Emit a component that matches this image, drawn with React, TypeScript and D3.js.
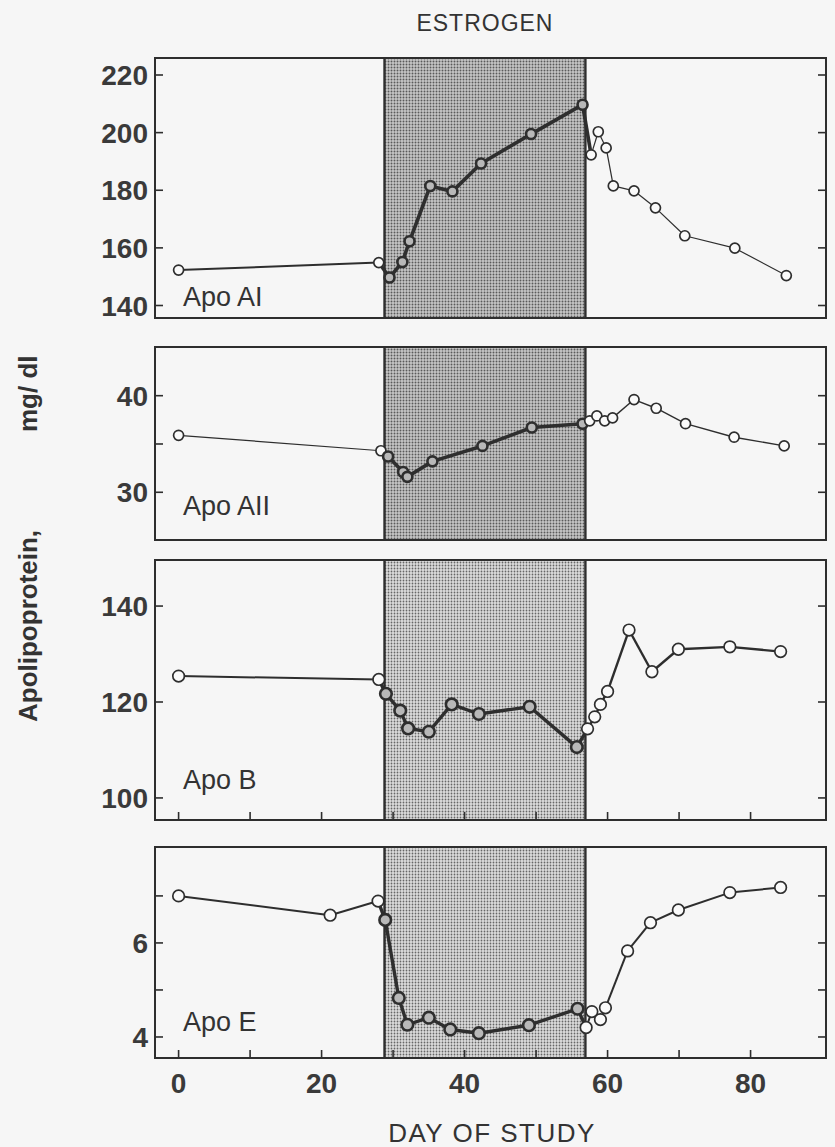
import React from "react";
import * as d3 from "d3";

// ---------- data ----------
const estrogenStart = 28.8;
const estrogenEnd = 56.9;

const xTicks = [0, 10, 20, 30, 40, 50, 60, 70, 80];
const xTickLabels = [0, 20, 40, 60, 80];

const apoAIDays = [0, 28, 29.5, 31.3, 32.3, 35.2, 38.3, 42.3, 49.3, 56.5, 57.7, 58.7, 59.8, 60.8, 63.7, 66.7, 70.8, 77.8, 85];
const apoAIValues = [152.3, 154.9, 149.7, 155.1, 162.3, 181.5, 179.6, 189.3, 199.5, 209.7, 192.3, 200.3, 194.7, 181.5, 179.8, 173.9, 164.2, 159.9, 150.4];
const apoAITicks = [140, 160, 180, 200, 220];
const apoAITickLabels = [140, 160, 180, 200, 220];

const apoAIIDays = [0, 28.3, 29.3, 31.4, 32.0, 35.5, 42.5, 49.4, 56.5, 57.5, 58.5, 59.6, 60.7, 63.7, 66.8, 70.9, 77.7, 84.7];
const apoAIIValues = [35.9, 34.3, 33.7, 32.1, 31.6, 33.2, 34.8, 36.7, 37.1, 37.4, 37.9, 37.4, 37.7, 39.6, 38.7, 37.1, 35.7, 34.8];
const apoAIITicks = [30, 35, 40];
const apoAIITickLabels = [30, 40];

const apoBDays = [0, 28, 29, 31, 32.1, 35, 38.2, 42, 49.1, 55.7, 57.2, 58.2, 59, 60, 63, 66.2, 69.9, 77.1, 84.2];
const apoBValues = [125.4, 124.7, 121.7, 118.2, 114.5, 113.8, 119.5, 117.5, 119.0, 110.6, 114.4, 116.9, 119.5, 122.2, 135.0, 126.3, 131.0, 131.5, 130.5];
const apoBTicks = [100, 120, 140];
const apoBTickLabels = [100, 120, 140];

const apoEDays = [0, 21.2, 27.9, 28.9, 30.8, 32, 35, 38, 42, 49, 55.8, 57.0, 57.8, 59, 59.7, 62.8, 66, 69.9, 77.1, 84.2];
const apoEValues = [7.0, 6.59, 6.89, 6.49, 4.83, 4.26, 4.41, 4.16, 4.08, 4.25, 4.6, 4.2, 4.54, 4.37, 4.62, 5.83, 6.43, 6.7, 7.07, 7.18];
const apoETicks = [4, 5, 6, 7];
const apoETickLabels = [4, 6];

// ---------- layout ----------
const W = 835;
const H = 1147;
const X0 = 155;
const X1 = 826;
const FONT = "'Liberation Sans', Arial, Helvetica, sans-serif";
const INK = "#2e2e2e";

const x = d3.scaleLinear().domain([-3.3, 90.55]).range([X0, X1]);

type Panel = {
  key: string;
  label: string;
  days: number[];
  values: number[];
  ticks: number[];
  tickLabels: number[];
  domain: [number, number];
  top: number;
  bottom: number;
  labelY: number;
  pattern: string;
  wPre: number;
  wIn: number;
  wPost: number;
  r: number;
  xTicksOn: boolean;
};

const panels: Panel[] = [
  { key: "a1", label: "Apo AI", days: apoAIDays, values: apoAIValues, ticks: apoAITicks, tickLabels: apoAITickLabels,
    domain: [135.66, 225.9], top: 58, bottom: 318, labelY: 306, pattern: "dotsDark", wPre: 2, wIn: 3.6, wPost: 1.2, r: 5, xTicksOn: false },
  { key: "a2", label: "Apo AII", days: apoAIIDays, values: apoAIIValues, ticks: apoAIITicks, tickLabels: apoAIITickLabels,
    domain: [25.06, 45.04], top: 347, bottom: 540, labelY: 515, pattern: "dotsDark", wPre: 1.2, wIn: 3.6, wPost: 1.4, r: 5, xTicksOn: false },
  { key: "b", label: "Apo B", days: apoBDays, values: apoBValues, ticks: apoBTicks, tickLabels: apoBTickLabels,
    domain: [95.4, 149.6], top: 560, bottom: 820, labelY: 789, pattern: "dotsLight", wPre: 2, wIn: 3.4, wPost: 2.4, r: 5.8, xTicksOn: true },
  { key: "e", label: "Apo E", days: apoEDays, values: apoEValues, ticks: apoETicks, tickLabels: apoETickLabels,
    domain: [3.553, 8.04], top: 847, bottom: 1058, labelY: 1031, pattern: "dotsLight", wPre: 2, wIn: 3.4, wPost: 2, r: 5.8, xTicksOn: true },
];

const inside = (d: number) => d >= estrogenStart && d <= estrogenEnd;

function PanelView({ p }: { p: Panel }) {
  const y = d3.scaleLinear().domain(p.domain).range([p.bottom, p.top]);
  const pts = p.days.map((d, i) => ({ d, v: p.values[i] }));
  const line = d3.line<{ d: number; v: number }>().x((q) => x(q.d)).y((q) => y(q.v));
  const segs = pts.slice(1).map((q, i) => {
    const a = pts[i];
    const thick = inside(a.d) || inside(q.d);
    const w = thick ? p.wIn : q.d < estrogenStart ? p.wPre : p.wPost;
    return { a, b: q, w };
  });
  const sx0 = x(estrogenStart);
  const sx1 = x(estrogenEnd);
  return (
    <g>
      <rect x={sx0} y={p.top} width={sx1 - sx0} height={p.bottom - p.top} fill={`url(#${p.pattern})`} />
      <line x1={sx0} x2={sx0} y1={p.top} y2={p.bottom} stroke={INK} strokeWidth={2.4} />
      <line x1={sx1} x2={sx1} y1={p.top} y2={p.bottom} stroke={INK} strokeWidth={2.4} />
      <rect x={X0} y={p.top} width={X1 - X0} height={p.bottom - p.top} fill="none" stroke={INK} strokeWidth={2} />
      {p.ticks.map((t) => (
        <g key={t}>
          <line x1={X0} x2={X0 + 8} y1={y(t)} y2={y(t)} stroke={INK} strokeWidth={1.6} />
          <line x1={X1 - 8} x2={X1} y1={y(t)} y2={y(t)} stroke={INK} strokeWidth={1.6} />
        </g>
      ))}
      {p.tickLabels.map((t) => (
        <text key={t} x={148} y={y(t)} dy="0.36em" textAnchor="end" fontFamily={FONT} fontWeight={700}
          fontSize={28} fill="#3a3a3a">{t}</text>
      ))}
      {p.xTicksOn && xTicks.map((t) => (
        <line key={t} x1={x(t)} x2={x(t)} y1={p.bottom} y2={p.bottom - 8} stroke={INK} strokeWidth={1.6} />
      ))}
      {segs.map((s, i) => (
        <path key={i} d={line([s.a, s.b]) || ""} stroke={INK} strokeWidth={s.w} fill="none" strokeLinejoin="round" />
      ))}
      {pts.map((q, i) => (
        <circle key={i} cx={x(q.d)} cy={y(q.v)} r={p.r}
          fill={inside(q.d) ? "#b8b8b8" : "#fafafa"}
          stroke={INK} strokeWidth={inside(q.d) ? 2.6 : 1.7} />
      ))}
      <text x={183} y={p.labelY} fontFamily={FONT} fontSize={27} fill="#333">{p.label}</text>
    </g>
  );
}

export default function App() {
  return (
    <svg width={W} height={H} style={{ position: "absolute", left: 0, top: 0, background: "#f6f6f6" }}>
      <defs>
        <pattern id="dotsDark" width={3} height={3} patternUnits="userSpaceOnUse">
          <rect width={3} height={3} fill="#c6c6c6" />
          <circle cx={1.5} cy={1.5} r={0.95} fill="#5a5a5a" />
        </pattern>
        <pattern id="dotsLight" width={3} height={3} patternUnits="userSpaceOnUse">
          <rect width={3} height={3} fill="#dcdcdc" />
          <circle cx={1.5} cy={1.5} r={0.9} fill="#666" />
        </pattern>
      </defs>
      <rect width={W} height={H} fill="#f6f6f6" />
      <text x={(x(estrogenStart) + x(estrogenEnd)) / 2} y={31} textAnchor="middle" fontFamily={FONT} fontSize={23}
        letterSpacing={1} fill="#333">ESTROGEN</text>
      {panels.map((p) => <PanelView key={p.key} p={p} />)}
      {xTickLabels.map((t) => (
        <text key={t} x={x(t)} y={1093} textAnchor="middle" fontFamily={FONT} fontWeight={700} fontSize={28}
          fill="#3a3a3a">{t}</text>
      ))}
      <text x={492} y={1142} textAnchor="middle" fontFamily={FONT} fontSize={26} letterSpacing={1.5} fill="#333">
        DAY OF STUDY
      </text>
      <text transform="translate(37,722) rotate(-90)" fontFamily={FONT} fontWeight={700} fontSize={26} fill="#333">
        Apolipoprotein,
      </text>
      <text transform="translate(37,432) rotate(-90)" fontFamily={FONT} fontWeight={700} fontSize={26} fill="#333">
        mg/ dl
      </text>
    </svg>
  );
}
